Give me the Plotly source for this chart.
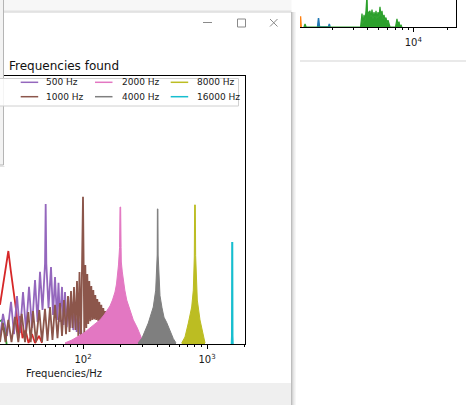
import plotly.graph_objects as go

W, H = 466, 405

# ---------------- main chart: "Frequencies found" ----------------
series_labels = ["500 Hz", "1000 Hz", "2000 Hz", "4000 Hz", "8000 Hz", "16000 Hz"]
series_colors = ["#9467bd", "#8c564b", "#e377c2", "#7f7f7f", "#bcbd22", "#17becf"]

green_f = [21.41, 22.23, 23.50, 24.20]
green_a = [0.085, 0.090, 0.045, 0.0]

red_f = [21.41, 22.76, 23.93, 25.0, 26.12, 27.41, 28.29, 29.20, 30.08, 31.04,
         32.52, 34.39, 36.35, 38.79, 41.02, 44.17, 46.70]
red_a = [0.146, 0.224, 0.284, 0.347, 0.276, 0.213, 0.157, 0.108, 0.022, 0.104,
         0.022, 0.052, 0.004, 0.037, 0.004, 0.030, 0.004]

purple_f = [21.4, 22.63, 24.38, 26.27, 27.77, 29.36, 31.04, 32.82, 34.70, 36.69,
            38.79, 41.02, 42.97, 45.01, 47.15, 49.4, 50.0, 50.6, 52.71, 55.21,
            57.30, 59.46, 61.70, 63.44, 65.24, 67.70, 69.61, 71.58, 73.87, 76.12,
            78.56, 81.08, 83.52, 86.20, 88.96, 91.65, 93.71, 95.83, 98.15]
purple_a = [0.022, 0.112, 0.030, 0.157, 0.037, 0.179, 0.041, 0.194, 0.052, 0.213,
            0.060, 0.239, 0.082, 0.269, 0.127, 0.30, 0.522, 0.30, 0.134, 0.287,
            0.108, 0.250, 0.090, 0.228, 0.082, 0.213, 0.071, 0.194, 0.063, 0.175,
            0.060, 0.157, 0.052, 0.138, 0.045, 0.119, 0.037, 0.082, 0.004]

brown_f = [21.41, 22.51, 23.71, 24.98, 26.51, 28.29, 30.08, 32.04, 34.07, 36.23,
           37.87, 39.53, 41.78, 44.42, 46.70, 49.38, 51.73, 54.18, 56.75, 59.46,
           62.28, 65.24, 67.70, 70.27, 72.93, 75.68, 77.82, 80.02, 82.29, 84.61,
           87.00, 89.46, 91.65, 93.71, 96.36, 98.8, 100.0, 101.2, 102.4, 104.4,
           106.3, 108.3, 110.3, 112.4, 114.5, 116.7, 118.9, 121.1, 123.3, 125.7,
           128.0, 130.4, 132.9, 135.4, 137.9, 140.5, 143.1, 145.8, 148.5, 151.3,
           154.2, 157.0, 160.0, 163.0, 166.7, 171.4, 177.8, 188.0, 193.3]
brown_a = [0.007, 0.078, 0.007, 0.090, 0.007, 0.101, 0.007, 0.112, 0.007, 0.119,
           0.007, 0.123, 0.007, 0.127, 0.007, 0.131, 0.011, 0.138, 0.015, 0.146,
           0.022, 0.153, 0.030, 0.164, 0.037, 0.179, 0.045, 0.198, 0.060, 0.213,
           0.052, 0.235, 0.030, 0.269, 0.022, 0.30, 0.549, 0.30, 0.034, 0.295,
           0.060, 0.261, 0.075, 0.235, 0.085, 0.216, 0.090, 0.201, 0.092, 0.183,
           0.090, 0.168, 0.085, 0.157, 0.080, 0.146, 0.075, 0.134, 0.070, 0.123,
           0.062, 0.112, 0.052, 0.097, 0.030, 0.075, 0.007, 0.071, 0.004]

pink_f = [71.58, 81.53, 89.46, 101.9, 113.9, 125.0, 137.1, 147.7, 156.1, 165.1,
          172.9, 181.2, 186.3, 189.8, 193.3, 196.2, 197.2, 198.8, 201.2, 202.8,
          203.7, 207.5, 212.1, 217.4, 225.2, 239.3, 254.4, 274.2, 288.4, 304.8, 310.0]
pink_a = [0.004, 0.015, 0.026, 0.041, 0.060, 0.075, 0.090, 0.108, 0.123, 0.142,
          0.164, 0.194, 0.224, 0.250, 0.295, 0.343, 0.36, 0.511, 0.511, 0.36,
          0.306, 0.269, 0.231, 0.201, 0.164, 0.127, 0.090, 0.060, 0.034, 0.007, 0.0]

gray_f = [277.7, 299.1, 336.1, 368.8, 385.7, 393.0, 396.6, 398.0, 402.0, 403.6,
          406.3, 410.1, 417.8, 433.6, 449.9, 473.2, 503.1, 535.0, 562.3]
gray_a = [0.004, 0.022, 0.078, 0.138, 0.201, 0.265, 0.332, 0.504, 0.504, 0.332,
          0.300, 0.265, 0.180, 0.135, 0.100, 0.080, 0.048, 0.020, 0.004]

olive_f = [625.2, 664.6, 706.9, 752.8, 775.4, 790.0, 795.0, 805.0, 810.0, 815.4,
           835.3, 878.0, 923.2, 963.8]
olive_a = [0.004, 0.026, 0.078, 0.138, 0.201, 0.325, 0.519, 0.519, 0.33, 0.265,
           0.164, 0.090, 0.041, 0.004]

cyan_f = [1580, 1588, 1594, 1602, 1608, 1616]
cyan_a = [0.0, 0.03, 0.377, 0.377, 0.03, 0.0]

main_major_ticks = [100, 1000]
main_major_text = ["10<sup>2</sup>", "10<sup>3</sup>"]
main_minor_ticks = [30, 40, 50, 60, 70, 80, 90, 200, 300, 400, 500, 600, 700, 800, 900, 2000]

# ---------------- partially hidden chart (top right) ----------------
tr_green_f = [1120, 1144, 1170, 3480, 3580, 3650, 3727, 3800, 3878, 3957, 4000, 4100,
              4202, 4290, 4374, 4460, 4553, 4650, 4740, 4830, 4932, 5030, 5133, 5240,
              5343, 5450, 5563, 5670, 5788, 5900, 6026, 6150, 6272, 7000, 7211, 7350,
              7510, 7650, 7816, 7950]
tr_green_a = [0.0, 0.11, 0.0, 0.0, 0.5, 0.1, 0.45, 0.2, 0.6, 1.2, 0.4, 0.55,
              0.6, 0.35, 0.65, 0.3, 0.55, 0.35, 0.6, 0.3, 0.55, 0.35, 0.75, 0.4,
              0.6, 0.3, 0.45, 0.25, 0.35, 0.15, 0.25, 0.05, 0.0, 0.0, 0.3, 0.1,
              0.2, 0.0, 0.08, 0.0]
tr_blue_f = [1470, 1499, 1530, 1830, 1860, 1890]
tr_blue_a = [0.0, 0.33, 0.0, 0.0, 0.11, 0.0]
tr_orange_f = [1035, 1045, 1060]
tr_orange_a = [0.0, 0.4, 0.0]
tr_major_ticks = [10000]
tr_major_text = ["10<sup>4</sup>"]
tr_minor_ticks = [2000, 3000, 4000, 5000, 6000, 7000, 8000, 9000, 20000]


def X(px):
    return px / W


def Y(py):
    return 1 - py / H


FONT = "DejaVu Sans"
fig = go.Figure()


def add_line(f, a, color, width=1.5, fill=False, xa="x", ya="y"):
    fig.add_trace(go.Scatter(
        x=f, y=a, mode="lines", xaxis=xa, yaxis=ya,
        line=dict(color=color, width=width),
        fill="tozeroy" if fill else None,
        fillcolor=color if fill else None,
        hoverinfo="skip", showlegend=False))


add_line(green_f, green_a, "#2ca02c", width=1.8)
add_line(red_f, red_a, "#d62728", width=1.8)
add_line(purple_f, purple_a, series_colors[0], width=1.8)
add_line(brown_f, brown_a, series_colors[1], width=1.8)
add_line(pink_f, pink_a, series_colors[2], width=1, fill=True)
add_line(gray_f, gray_a, series_colors[3], width=1, fill=True)
add_line(olive_f, olive_a, series_colors[4], width=1, fill=True)
add_line(cyan_f, cyan_a, series_colors[5], width=1.8)

add_line(tr_orange_f, tr_orange_a, "#ff7f0e", width=1.5, fill=True, xa="x2", ya="y2")
add_line(tr_blue_f, tr_blue_a, "#1f77b4", width=1.5, fill=True, xa="x2", ya="y2")
add_line(tr_green_f, tr_green_a, "#2ca02c", width=1.2, fill=True, xa="x2", ya="y2")

tickfont = dict(family=FONT, size=10, color="#1a1a1a")

fig.update_layout(
    width=W, height=H, margin=dict(l=0, r=0, t=0, b=0),
    paper_bgcolor="white", plot_bgcolor="rgba(0,0,0,0)",
    showlegend=False,
    xaxis=dict(domain=[X(0), X(245)], type="log", range=[1.3306, 3.3065],
               showline=True, linecolor="black", linewidth=1, mirror=True,
               showgrid=False, zeroline=False,
               ticks="outside", ticklen=4, tickwidth=1, tickcolor="black",
               tickmode="array", tickvals=main_major_ticks, ticktext=main_major_text,
               tickfont=tickfont, ticklabelstandoff=2,
               minor=dict(ticks="outside", ticklen=2, tickwidth=0.8, tickcolor="black",
                          tickmode="array", tickvals=main_minor_ticks, showgrid=False),
               anchor="y"),
    yaxis=dict(domain=[Y(344), Y(76)], range=[0, 1], side="right",
               showline=True, linecolor="black", linewidth=1,
               showgrid=False, zeroline=False, showticklabels=False, ticks="",
               anchor="x"),
    xaxis2=dict(domain=[X(300), X(455.7)], type="log", range=[3.0148, 4.3687],
                showline=True, linecolor="black", linewidth=1,
                showgrid=False, zeroline=False,
                ticks="outside", ticklen=4, tickwidth=1, tickcolor="black",
                tickmode="array", tickvals=tr_major_ticks, ticktext=tr_major_text,
                tickfont=tickfont, ticklabelstandoff=2,
                minor=dict(ticks="outside", ticklen=2, tickwidth=0.8, tickcolor="black",
                           tickmode="array", tickvals=tr_minor_ticks, showgrid=False),
                anchor="y2"),
    yaxis2=dict(domain=[Y(27), 1], range=[0, 1], side="right",
                showline=True, linecolor="black", linewidth=1,
                showgrid=False, zeroline=False, showticklabels=False, ticks="",
                anchor="x2"),
)

shapes = []
ann = []

# top-right window separator
shapes.append(dict(type="line", xref="paper", yref="paper", x0=X(300), x1=X(466),
                   y0=Y(61), y1=Y(61), line=dict(color="#e2e2e2", width=1.5)))

# main window: faint area above top edge, top edge, right edge + shadow, bottom strip
shapes.append(dict(type="rect", xref="paper", yref="paper", x0=X(3.5), x1=X(291.5),
                   y0=Y(12), y1=Y(0), fillcolor="#f7f7f7", line=dict(width=0), layer="below"))
shapes.append(dict(type="line", xref="paper", yref="paper", x0=X(3.5), x1=X(291.5),
                   y0=Y(10.5), y1=Y(10.5), line=dict(color="#ececec", width=1)))
shapes.append(dict(type="line", xref="paper", yref="paper", x0=X(3.5), x1=X(291.5),
                   y0=Y(12), y1=Y(12), line=dict(color="#cdcdcd", width=1)))
for dx, col in [(0, "#bdbdbd"), (1, "#d5d5d5"), (2, "#e4e4e4"), (3, "#eeeeee"), (4, "#f6f6f6")]:
    shapes.append(dict(type="line", xref="paper", yref="paper", x0=X(291.5 + dx), x1=X(291.5 + dx),
                       y0=Y(12), y1=Y(405), line=dict(color=col, width=1)))
shapes.append(dict(type="rect", xref="paper", yref="paper", x0=X(-2), x1=X(291),
                   y0=Y(405), y1=Y(383), fillcolor="#efefef", line=dict(width=0)))

# left overlapping window
shapes.append(dict(type="rect", xref="paper", yref="paper", x0=X(-3), x1=X(3.5),
                   y0=Y(165), y1=Y(-3), fillcolor="#f3f3f3", line=dict(color="#b5b5b5", width=1)))
shapes.append(dict(type="line", xref="paper", yref="paper", x0=X(-3), x1=X(4.5),
                   y0=Y(166.5), y1=Y(166.5), line=dict(color="#e2e2e2", width=1)))

# title-bar buttons
shapes.append(dict(type="line", xref="paper", yref="paper", x0=X(203), x1=X(212),
                   y0=Y(22.5), y1=Y(22.5), line=dict(color="#8a8a8a", width=1)))
shapes.append(dict(type="rect", xref="paper", yref="paper", x0=X(237.5), x1=X(245.5),
                   y0=Y(27), y1=Y(19), line=dict(color="#8a8a8a", width=1)))
shapes.append(dict(type="line", xref="paper", yref="paper", x0=X(270), x1=X(277.5),
                   y0=Y(19), y1=Y(26.5), line=dict(color="#8a8a8a", width=1)))
shapes.append(dict(type="line", xref="paper", yref="paper", x0=X(270), x1=X(277.5),
                   y0=Y(26.5), y1=Y(19), line=dict(color="#8a8a8a", width=1)))

# legend box (left part off-screen)
shapes.append(dict(type="rect", xref="paper", yref="paper", x0=X(-10), x1=X(238.5),
                   y0=Y(106), y1=Y(78.5), fillcolor="rgba(255,255,255,0.85)",
                   line=dict(color="#d0d0d0", width=1)))
col_handle_x = [20.7, 95, 170.7]
col_text_x = [44.3, 120, 195]
row_y = [82.3, 96.7]
for i, (lab, col) in enumerate(zip(series_labels, series_colors)):
    c, r = i // 2, i % 2
    shapes.append(dict(type="line", xref="paper", yref="paper",
                       x0=X(col_handle_x[c]), x1=X(col_handle_x[c] + 17.5),
                       y0=Y(row_y[r]), y1=Y(row_y[r]), line=dict(color=col, width=1.5)))
    ann.append(dict(text=lab, xref="paper", yref="paper", x=X(col_text_x[c]), y=Y(row_y[r]),
                    xanchor="left", yanchor="middle", showarrow=False,
                    font=dict(family=FONT, size=9, color="#1a1a1a")))

# title and x label
ann.append(dict(text="Frequencies found", xref="paper", yref="paper", x=X(7), y=Y(65.5),
                xanchor="left", yanchor="middle", showarrow=False,
                font=dict(family=FONT, size=12, color="#111111")))
ann.append(dict(text="Frequencies/Hz", xref="paper", yref="paper", x=X(64), y=Y(373),
                xanchor="center", yanchor="middle", showarrow=False,
                font=dict(family=FONT, size=10, color="#1a1a1a")))

fig.update_layout(shapes=shapes, annotations=ann)
fig.write_html("out.html")
